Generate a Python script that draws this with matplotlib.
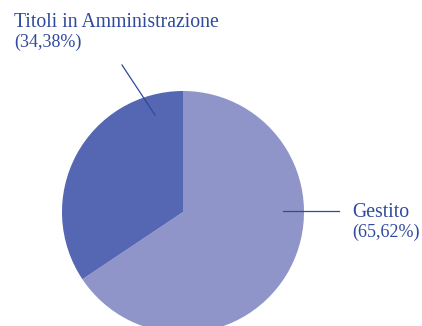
import matplotlib
matplotlib.use("Agg")
import matplotlib.pyplot as plt

labels = ["Gestito", "Titoli in Amministrazione"]
values = [65.62, 34.38]
colors = ["#8f95c8", "#5566b2"]
text_color = "#2f4a9c"

H = 326
fig = plt.figure(figsize=(4.22, 3.26), dpi=100)
ax = fig.add_axes([0, 0, 1, 1])

# pie in pixel-like coordinates (y measured from bottom)
ax.pie(values, colors=colors, startangle=90, counterclock=False,
       center=(183, H - 212), radius=121,
       wedgeprops=dict(linewidth=0))

# leader lines
ax.plot([122, 155], [H - 65, H - 115], color=text_color, lw=0.9)
ax.plot([283, 339], [H - 211, H - 211], color=text_color, lw=0.9)

fnt = dict(family="Liberation Serif", color=text_color,
           ha="left", va="baseline")


def pct(v):
    return "(" + f"{v:.2f}".replace(".", ",") + "%)"


ax.text(14, H - 27, labels[1], fontsize=14.2, **fnt)
ax.text(14, H - 47, pct(values[1]), fontsize=13, **fnt)
ax.text(352, H - 217, labels[0], fontsize=14.2, **fnt)
ax.text(352, H - 237, pct(values[0]), fontsize=13, **fnt)

ax.set_xlim(0, 422)
ax.set_ylim(0, H)
ax.set_aspect("auto")
ax.axis("off")

fig.savefig("out.png", dpi=100, facecolor="white")
